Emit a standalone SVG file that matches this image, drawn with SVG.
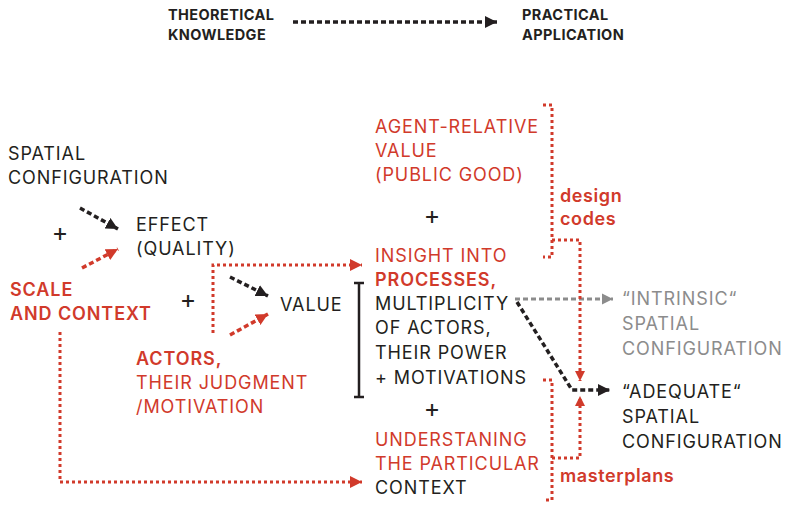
<svg xmlns="http://www.w3.org/2000/svg" width="787" height="505" viewBox="0 0 787 505">
<defs>
<style>
.t{font-family:Inter,"Liberation Sans",sans-serif;font-size:18px;letter-spacing:0.9px;fill:#231f20}
.s{font-size:14.5px;font-weight:700;letter-spacing:0.4px}
.p{font-size:25px;letter-spacing:0}
.m{letter-spacing:0.6px}
.r{fill:#d13a2b}
.b{font-weight:600}
.g{fill:#8c8c8c}
.dot{fill:none;stroke:#d13a2b;stroke-width:3;stroke-dasharray:3 3}
.dash{fill:none;stroke:#231f20;stroke-width:3.5;stroke-dasharray:5 3}
.rdash{fill:none;stroke:#d13a2b;stroke-width:3.5;stroke-dasharray:5 3}
.gdash{fill:none;stroke:#8c8c8c;stroke-width:3;stroke-dasharray:5 3}
</style>
<marker id="ab" viewBox="0 0 10 10" refX="10" refY="5" markerWidth="12" markerHeight="13" markerUnits="userSpaceOnUse" orient="auto"><path d="M0,0L10,5L0,10z" fill="#231f20"/></marker>
<marker id="ar" viewBox="0 0 10 10" refX="10" refY="5" markerWidth="12" markerHeight="13" markerUnits="userSpaceOnUse" orient="auto"><path d="M0,0L10,5L0,10z" fill="#d13a2b"/></marker>
<marker id="ag" viewBox="0 0 10 10" refX="10" refY="5" markerWidth="11" markerHeight="12" markerUnits="userSpaceOnUse" orient="auto"><path d="M0,0L10,5L0,10z" fill="#8c8c8c"/></marker>
<marker id="arw" viewBox="0 0 10 10" refX="10" refY="5" markerWidth="10" markerHeight="15" markerUnits="userSpaceOnUse" orient="auto"><path d="M0,0L10,5L0,10z" fill="#d13a2b"/></marker>
</defs>
<rect width="787" height="505" fill="#fff"/>

<g id="header">
<text class="t s" x="168" y="20">THEORETICAL</text>
<text class="t s" x="168" y="40">KNOWLEDGE</text>
<text class="t s" x="522" y="20">PRACTICAL</text>
<text class="t s" x="522" y="40">APPLICATION</text>
</g>

<g id="connectors">
<line class="dash" x1="293" y1="22" x2="497" y2="22" stroke-width="3" marker-end="url(#ab)"/>
<line class="dash" x1="80" y1="208" x2="118" y2="229" marker-end="url(#ab)"/>
<line class="rdash" x1="82" y1="268" x2="118" y2="249" marker-end="url(#ar)"/>
<line class="dash" x1="230" y1="277" x2="268" y2="296" marker-end="url(#ab)"/>
<line class="rdash" x1="230" y1="335" x2="268" y2="314" marker-end="url(#ar)"/>
<polyline class="dot" points="213,333 213,265 362,265" marker-end="url(#ar)"/>
<polyline class="dot" points="60,332 60,482 362,482" marker-end="url(#ar)"/>
<line class="gdash" x1="515" y1="299" x2="613" y2="299" marker-end="url(#ag)"/>
<polyline class="dash" points="517,302 572,390 610,390" marker-end="url(#ab)"/>
<polyline class="dot" points="543,105 552,105 552,257 543,257"/>
<polyline class="dot" points="552,240 580,240 580,381" marker-end="url(#arw)"/>
<polyline class="dot" points="543,380 552,380 552,500 543,500"/>
<polyline class="dot" points="552,458 580,458 580,396" marker-end="url(#arw)"/>
<path d="M354,283H364M359,283V397M354,397H364" fill="none" stroke="#231f20" stroke-width="2.5"/>
</g>

<g id="spatial-configuration">
<text class="t" x="8" y="160">SPATIAL</text>
<text class="t" x="8" y="184">CONFIGURATION</text>
</g>
<g id="plus1"><text class="t p" x="60" y="241" text-anchor="middle">+</text></g>
<g id="effect">
<text class="t" x="136" y="231">EFFECT</text>
<text class="t" x="136" y="255">(QUALITY)</text>
</g>
<g id="scale-context">
<text class="t r b" x="10" y="296">SCALE</text>
<text class="t r b" x="10" y="320">AND CONTEXT</text>
</g>
<g id="plus2"><text class="t p" x="188" y="308" text-anchor="middle">+</text></g>
<g id="value"><text class="t" x="280" y="311">VALUE</text></g>
<g id="actors">
<text class="t r b" x="136" y="365">ACTORS,</text>
<text class="t r" x="136" y="389">THEIR JUDGMENT</text>
<text class="t r" x="136" y="413">/MOTIVATION</text>
</g>
<g id="agent-relative">
<text class="t r" x="375" y="133">AGENT-RELATIVE</text>
<text class="t r" x="375" y="157">VALUE</text>
<text class="t r" x="375" y="181">(PUBLIC GOOD)</text>
</g>
<g id="plus3"><text class="t p" x="432" y="224" text-anchor="middle">+</text></g>
<g id="insight">
<text class="t r" x="375" y="262">INSIGHT INTO</text>
<text class="t r b" x="375" y="286">PROCESSES,</text>
<text class="t" x="375" y="310">MULTIPLICITY</text>
<text class="t" x="375" y="334">OF ACTORS,</text>
<text class="t" x="375" y="359">THEIR POWER</text>
<text class="t" x="375" y="384">+ MOTIVATIONS</text>
</g>
<g id="plus4"><text class="t p" x="432" y="417" text-anchor="middle">+</text></g>
<g id="understanding">
<text class="t r" x="375" y="446">UNDERSTANING</text>
<text class="t r" x="375" y="470">THE PARTICULAR</text>
<text class="t" x="375" y="494">CONTEXT</text>
</g>
<g id="design-codes">
<text class="t r b m" x="560" y="202">design</text>
<text class="t r b m" x="560" y="225">codes</text>
</g>
<g id="masterplans"><text class="t r b m" x="560" y="482">masterplans</text></g>
<g id="intrinsic">
<text class="t g" x="622" y="305">“INTRINSIC“</text>
<text class="t g" x="622" y="330">SPATIAL</text>
<text class="t g" x="622" y="355">CONFIGURATION</text>
</g>
<g id="adequate">
<text class="t" x="622" y="398">“ADEQUATE“</text>
<text class="t" x="622" y="423">SPATIAL</text>
<text class="t" x="622" y="448">CONFIGURATION</text>
</g>
</svg>
